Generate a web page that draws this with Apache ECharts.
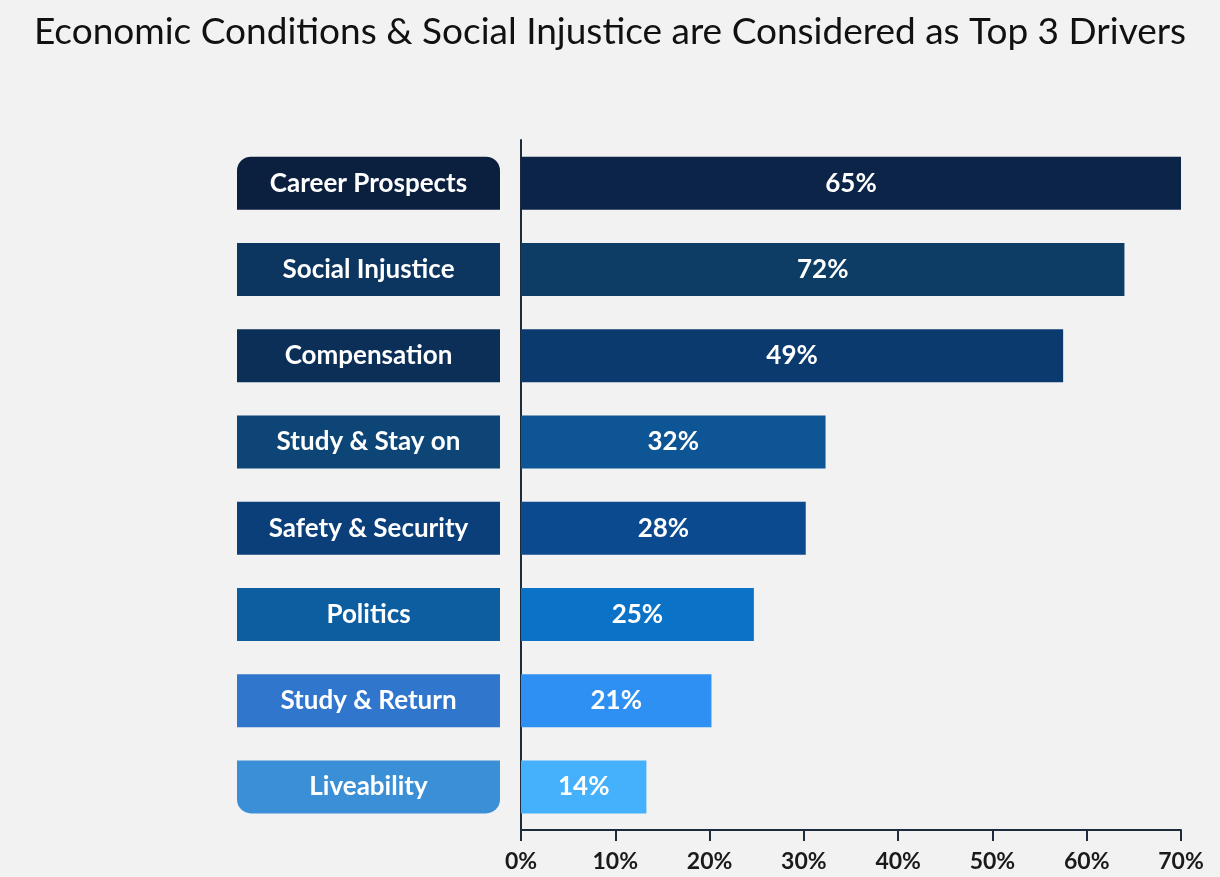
<!DOCTYPE html>
<html>
<head>
<meta charset="utf-8">
<script src="https://cdn.jsdelivr.net/npm/echarts@6/dist/echarts.min.js"></script>
<style>
html,body{margin:0;padding:0;background:#f2f2f2;}
#chart{width:1220px;height:877px;}
</style>
</head>
<body>
<div id="chart"></div>
<script>
const categories = ["Career Prospects","Social Injustice","Compensation","Study & Stay on","Safety & Security","Politics","Study & Return","Liveability"];
const barValues = [70, 64, 57.5, 32.3, 30.2, 24.7, 20.2, 13.3];
const barLabels = ["65%","72%","49%","32%","28%","25%","21%","14%"];
const barColors = ["#0b2448","#0d3c64","#0b3a6e","#0d5594","#0c4a90","#0a73c8","#2e90f2","#45b0fb"];
const boxColors = ["#0b1f3f","#0c3660","#0c2f58","#0d4576","#0b3f7a","#0c5ea0","#2f76cc","#3b8fd6"];
const xTicks = [0,10,20,30,40,50,60,70];

const rich = {};
categories.forEach((c,i)=>{
  let r = 0;
  if (i===0) r=[14,14,0,0];
  if (i===categories.length-1) r=[0,0,14,14];
  rich['c'+i] = {
    backgroundColor: boxColors[i], color:'#ffffff', width:263, height:53,
    align:'center', verticalAlign:'middle', lineHeight:53,
    fontFamily:'Lato', fontWeight:'bold', fontSize:26, borderRadius:r
  };
});

const chart = echarts.init(document.getElementById('chart'));
chart.setOption({
  backgroundColor:'#f2f2f2',
  animation:false,
  title:{text:'Economic Conditions & Social Injustice are Considered as Top 3 Drivers',
    left:'center', top:9,
    textStyle:{fontFamily:'Lato', fontWeight:'normal', fontSize:37, color:'#111111'}},
  grid:{left:521, right:39, top:140, bottom:47, containLabel:false},
  xAxis:{type:'value', min:0, max:70, interval:10,
    axisLine:{show:true, lineStyle:{color:'#1c2c3c', width:2}},
    axisTick:{show:true, length:11, lineStyle:{color:'#1c2c3c', width:2}},
    splitLine:{show:false},
    axisLabel:{formatter:v=>xTicks.includes(v)?v+'%':'', margin:20, color:'#1a1a1a', fontFamily:'Lato', fontWeight:'bold', fontSize:23}},
  yAxis:{type:'category', data:categories, inverse:true,
    axisLine:{show:true, lineStyle:{color:'#1c2c3c', width:2}},
    axisTick:{show:false},
    axisLabel:{margin:21, formatter:(v,i)=>'{c'+i+'|'+v+'}', rich:rich}},
  series:[{type:'bar', barWidth:53,
    data:barValues.map((v,i)=>({value:v, itemStyle:{color:barColors[i]}})),
    label:{show:true, position:'inside', formatter:p=>barLabels[p.dataIndex],
      color:'#ffffff', fontFamily:'Lato', fontWeight:'bold', fontSize:26}}]
});
</script>
</body>
</html>
